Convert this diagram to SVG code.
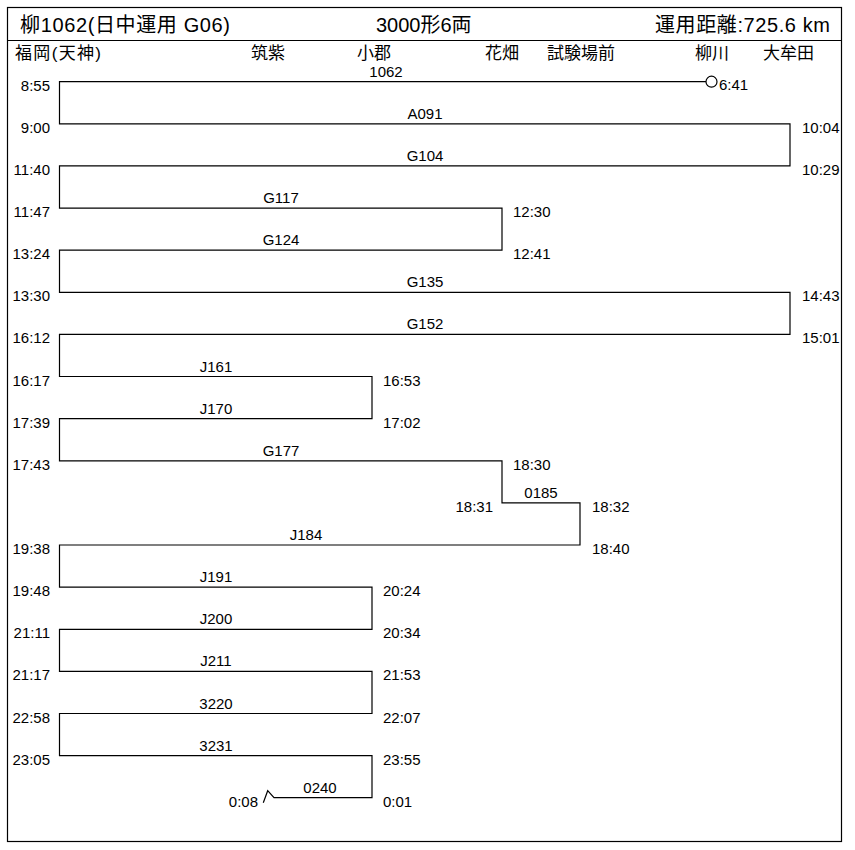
<svg xmlns="http://www.w3.org/2000/svg" width="855" height="850" viewBox="0 0 855 850">
<style>
.hd{font-family:"Liberation Sans","Noto Sans CJK JP",sans-serif;font-size:20px;fill:#000}
.st{font-family:"Liberation Sans","Noto Sans CJK JP",sans-serif;font-size:17px;fill:#000}
.t{font-family:"Liberation Sans",Arial,sans-serif;font-size:15px;fill:#000}
.l{text-anchor:end}
.c{text-anchor:middle}
.ln{fill:none;stroke:#000;stroke-width:1.2}
</style>
<rect x="7.5" y="7.5" width="834" height="834" fill="#fff" stroke="#000" stroke-width="1.2"/>
<line x1="7.5" y1="40.5" x2="841.5" y2="40.5" stroke="#000" stroke-width="1.2"/>
<g id="header">
<text class="hd" x="20" y="32" textLength="210" lengthAdjust="spacing">柳1062(日中運用 G06)</text>
<text class="hd" x="376" y="32">3000形6両</text>
<text class="hd" x="655" y="32" textLength="175" lengthAdjust="spacing">運用距離:725.6 km</text>
</g>
<g id="stations">
<text class="st" x="15" y="59" textLength="86" lengthAdjust="spacing">福岡(天神)</text>
<text class="st" x="251" y="59">筑紫</text>
<text class="st" x="357" y="59">小郡</text>
<text class="st" x="485" y="59">花畑</text>
<text class="st" x="547" y="59">試験場前</text>
<text class="st" x="695" y="59">柳川</text>
<text class="st" x="763" y="59">大牟田</text>
</g>
<g id="connectors">
<circle cx="711.5" cy="81.7" r="5.5" class="ln"/>
<path class="ln" d="M706,81.7 H59.5 V123.8 H790 V165.9 H59.5 V208.1 H502 V250.2 H59.5 V292.3 H790 V334.4 H59.5 V376.5 H372 V418.7 H59.5 V460.8 H502 V502.9 H580 V545 H59.5 V587.1 H372 V629.3 H59.5 V671.4 H372 V713.5 H59.5 V755.6 H372 V797.7 H274 L267.7,790.7 L263.3,802.7"/>
</g>
<g id="trains">
<text class="t c" x="386" y="76.7">1062</text>
<text class="t c" x="425" y="118.8">A091</text>
<text class="t c" x="425" y="160.9">G104</text>
<text class="t c" x="281" y="203.1">G117</text>
<text class="t c" x="281" y="245.2">G124</text>
<text class="t c" x="425" y="287.3">G135</text>
<text class="t c" x="425" y="329.4">G152</text>
<text class="t c" x="216" y="371.5">J161</text>
<text class="t c" x="216" y="413.7">J170</text>
<text class="t c" x="281" y="455.8">G177</text>
<text class="t c" x="541" y="497.9">0185</text>
<text class="t c" x="306" y="540">J184</text>
<text class="t c" x="216" y="582.1">J191</text>
<text class="t c" x="216" y="624.3">J200</text>
<text class="t c" x="216" y="666.4">J211</text>
<text class="t c" x="216" y="708.5">3220</text>
<text class="t c" x="216" y="750.6">3231</text>
<text class="t c" x="320" y="792.7">0240</text>
</g>
<g id="times-left">
<text class="t l" x="50" y="90.7">8:55</text>
<text class="t l" x="50" y="132.8">9:00</text>
<text class="t l" x="50" y="174.9">11:40</text>
<text class="t l" x="50" y="217.1">11:47</text>
<text class="t l" x="50" y="259.2">13:24</text>
<text class="t l" x="50" y="301.3">13:30</text>
<text class="t l" x="50" y="343.4">16:12</text>
<text class="t l" x="50" y="385.5">16:17</text>
<text class="t l" x="50" y="427.7">17:39</text>
<text class="t l" x="50" y="469.8">17:43</text>
<text class="t l" x="493" y="511.9">18:31</text>
<text class="t l" x="50" y="554">19:38</text>
<text class="t l" x="50" y="596.1">19:48</text>
<text class="t l" x="50" y="638.3">21:11</text>
<text class="t l" x="50" y="680.4">21:17</text>
<text class="t l" x="50" y="722.5">22:58</text>
<text class="t l" x="50" y="764.6">23:05</text>
<text class="t l" x="258" y="806.7">0:08</text>
</g>
<g id="times-right">
<text class="t" x="719" y="89.7">6:41</text>
<text class="t" x="802" y="132.8">10:04</text>
<text class="t" x="802" y="174.9">10:29</text>
<text class="t" x="513" y="217.1">12:30</text>
<text class="t" x="513" y="259.2">12:41</text>
<text class="t" x="802" y="301.3">14:43</text>
<text class="t" x="802" y="343.4">15:01</text>
<text class="t" x="383" y="385.5">16:53</text>
<text class="t" x="383" y="427.7">17:02</text>
<text class="t" x="513" y="469.8">18:30</text>
<text class="t" x="592" y="511.9">18:32</text>
<text class="t" x="592" y="554">18:40</text>
<text class="t" x="383" y="596.1">20:24</text>
<text class="t" x="383" y="638.3">20:34</text>
<text class="t" x="383" y="680.4">21:53</text>
<text class="t" x="383" y="722.5">22:07</text>
<text class="t" x="383" y="764.6">23:55</text>
<text class="t" x="383" y="806.7">0:01</text>
</g>
</svg>
